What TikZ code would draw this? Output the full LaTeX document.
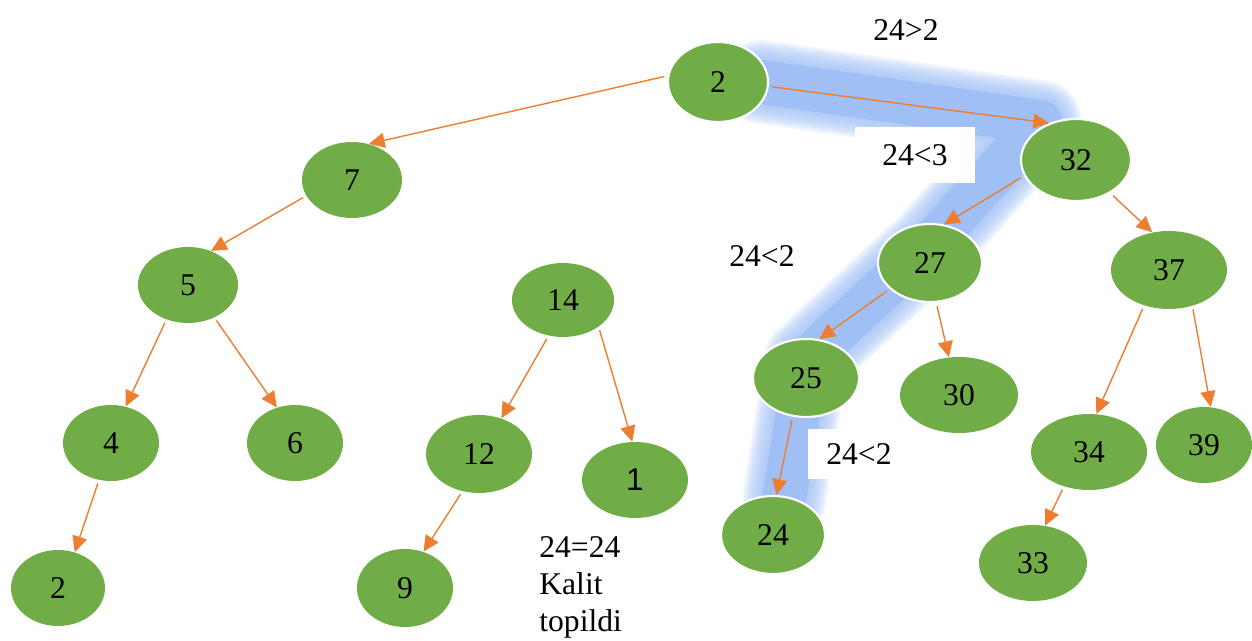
\documentclass[tikz,border=0pt]{standalone}
\usepackage{fontspec}
\setmainfont{Liberation Serif}
\newfontfamily\arialfont{Liberation Sans}
\usetikzlibrary{shapes.geometric,arrows.meta}

\definecolor{keygreen}{RGB}{112,173,71}
\definecolor{edgeorange}{RGB}{237,125,49}
\definecolor{glowblue}{RGB}{160,192,245}

\tikzset{
  key/.style={ellipse, fill=keygreen, inner sep=0pt,
    minimum width=2.08cm, minimum height=1.56cm,
    font=\fontsize{18}{21}\selectfont},
  hit/.style={key, draw=white, line width=1.2pt},
  edge/.style={draw=edgeorange, line width=0.8pt,
    -{Triangle[length=9pt,width=8.5pt]}},
  cmp/.style={fill=white, inner sep=0pt, font=\fontsize{18}{21}\selectfont},
}

\begin{document}
\begin{tikzpicture}[x=0.02cm,y=-0.02cm]
\useasboundingbox (0,0) rectangle (1252,641);

% search path 2 -> 32 -> 27 -> 25 -> 24, soft edge first
\foreach \w in {48,52,...,84}{
  \draw[glowblue, draw opacity=0.15, line width=\w*0.569pt, line join=round, line cap=round]
    (762,82) -- (1040,122) -- (930,245) -- (806,360) -- (784,500);
}
\draw[glowblue, line width=44*0.569pt, line join=round, line cap=round]
  (762,82) -- (1040,122) -- (930,245) -- (806,360) -- (784,500);

% keys
\node[hit, minimum width=2cm, minimum height=1.6cm] (r) at (718,82) {2};
\node[key, minimum width=2cm, minimum height=1.52cm] (n7) at (352,180) {7};
\node[key, minimum width=2cm, minimum height=1.52cm] (n5) at (188,285) {5};
\node[key, minimum width=1.92cm, minimum height=1.52cm] (n4) at (111,443) {4};
\node[key, minimum width=1.92cm, minimum height=1.52cm] (n6) at (295,443) {6};
\node[key, minimum width=1.88cm, minimum height=1.52cm] (n2) at (58,588) {2};
\node[key, minimum width=2.04cm, minimum height=1.48cm] (n14) at (563,300) {14};
\node[key, minimum width=2.12cm] (n12) at (479,454) {12};
\node[key, minimum width=2.12cm, minimum height=1.52cm, font=\arialfont\fontsize{18}{21}\selectfont] (n1) at (635,480) {1};
\node[key, minimum width=1.92cm] (n9) at (405,588) {9};
\node[hit, minimum width=2.2cm, minimum height=1.64cm] (n32) at (1076,160) {32};
\node[hit] (n27) at (930,263) {27};
\node[key, minimum width=2.32cm] (n37) at (1169,270) {37};
\node[hit, minimum width=2.12cm] (n25) at (806,378) {25};
\node[key, minimum width=2.36cm, minimum height=1.52cm] (n30) at (959,395) {30};
\node[hit] (n24) at (773,535) {24};
\node[key, minimum width=2.32cm, minimum height=1.52cm] (n34) at (1089,452) {34};
\node[key, minimum width=1.92cm, minimum height=1.52cm] (n39) at (1204,445) {39};
\node[key, minimum width=2.16cm, minimum height=1.52cm] (n33) at (1033,563) {33};

% parent.angle / child.angle
\foreach \a/\s/\b/\e in {r/173/n7/65, r/-5/n32/126, n7/199/n5/56, n5/238/n4/68,
    n5/309/n6/117, n4/252/n2/65, n14/248/n12/58, n14/323/n1/94, n12/246/n9/63,
    n32/197/n27/70, n32/316/n37/114, n27/213/n25/71, n27/279/n30/105,
    n25/251/n24/85, n37/235/n34/79, n37/303/n39/80, n34/234/n33/72}
  \draw[edge, shorten <=2pt] (\a.\s) -- (\b.\e);

% comparisons
\node[cmp, minimum width=2.16cm, minimum height=0.9cm] (c1) at (906,30) {24>2};
\node[cmp, minimum width=2.42cm, minimum height=1.12cm] (c2) at (915,155) {24<3};
\node[cmp] (c3) at (762,256) {24<2};
\node[cmp, minimum width=2.04cm, minimum height=1.02cm] (c4) at (859,454) {24<2};
\node[cmp, align=left, anchor=north west] (res) at (539,536) {24=24\\Kalit\\topildi};
\end{tikzpicture}
\end{document}
